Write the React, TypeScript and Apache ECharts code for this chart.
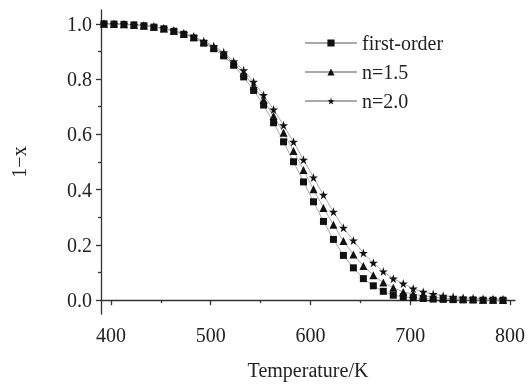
import React, { useEffect, useRef } from "react";
import * as echarts from "echarts";

const temperatures = [
  393, 403, 413, 423, 433, 443, 453, 463, 473, 483, 493, 503, 513, 523, 533, 543, 553, 563, 573, 583,
  593, 603, 613, 623, 633, 643, 653, 663, 673, 683, 693, 703, 713, 723, 733, 743, 753, 763, 773, 783, 793,
];
const firstOrder = [
  1.0, 0.999, 0.998, 0.996, 0.993, 0.988, 0.982, 0.973, 0.962, 0.949, 0.93, 0.91, 0.884, 0.85, 0.808,
  0.759, 0.706, 0.642, 0.573, 0.501, 0.428, 0.356, 0.285, 0.22, 0.162, 0.117, 0.078, 0.052, 0.032,
  0.018, 0.012, 0.009, 0.006, 0.004, 0.003, 0.002, 0.001, 0.001, 0.0, 0.0, 0.0,
];
const order15 = [
  1.0, 0.999, 0.998, 0.996, 0.993, 0.989, 0.983, 0.975, 0.964, 0.952, 0.934, 0.915, 0.891, 0.856, 0.822,
  0.774, 0.724, 0.666, 0.606, 0.54, 0.471, 0.401, 0.334, 0.273, 0.214, 0.165, 0.124, 0.09, 0.064,
  0.045, 0.03, 0.022, 0.016, 0.011, 0.008, 0.006, 0.004, 0.003, 0.002, 0.002, 0.001,
];
const order20 = [
  1.0, 0.999, 0.998, 0.996, 0.994, 0.99, 0.984, 0.976, 0.966, 0.954, 0.937, 0.92, 0.897, 0.864, 0.832,
  0.79, 0.742, 0.69, 0.633, 0.573, 0.508, 0.444, 0.381, 0.32, 0.262, 0.216, 0.171, 0.135, 0.104,
  0.078, 0.06, 0.042, 0.03, 0.022, 0.016, 0.012, 0.009, 0.007, 0.005, 0.004, 0.003,
];
const seriesNames = ["first-order", "n=1.5", "n=2.0"];
const xMajorTicks = [400, 500, 600, 700, 800];
const xMinorTicks = [450, 550, 650, 750];
const yMajorTicks = [0, 0.2, 0.4, 0.6, 0.8, 1.0];
const yMinorTicks = [0.1, 0.3, 0.5, 0.7, 0.9];

const STAR =
  "path://M50,0 L61,35 L98,35 L68,57 L79,91 L50,70 L21,91 L32,57 L2,35 L39,35 Z";

const FONT = "Liberation Serif";
const FONT_SIZE = 20;
const AXIS_COLOR = "#333";
const TEXT_COLOR = "#222";

export default function App() {
  const ref = useRef<HTMLDivElement>(null);
  useEffect(() => {
    if (!ref.current) return;
    const chart = echarts.init(ref.current, undefined, { renderer: "svg" });
    const pairs = (vals: number[]) => temperatures.map((t, i) => [t, vals[i]]);
    const baseX = {
      type: "value",
      min: 390,
      max: 805,
      splitLine: { show: false },
      axisLine: { show: true, lineStyle: { color: AXIS_COLOR, width: 1.3 } },
    };
    const baseY = {
      type: "value",
      min: -0.05,
      max: 1.05,
      splitLine: { show: false },
      axisLine: { show: true, lineStyle: { color: AXIS_COLOR, width: 1.3 } },
    };
    const lineSeries = (name: string, vals: number[], symbol: string, size: number) => ({
      name,
      type: "line",
      data: pairs(vals),
      symbol,
      symbolSize: size,
      showSymbol: true,
      lineStyle: { color: "#aaa", width: 1 },
      itemStyle: { color: "#111" },
    });
    chart.setOption({
      animation: false,
      textStyle: { fontFamily: FONT },
      grid: { left: 101, right: 10, top: 10, bottom: 69 },
      legend: {
        orient: "vertical",
        left: 304,
        top: 33,
        padding: 0,
        itemWidth: 52,
        itemHeight: 9,
        itemGap: 9,
        textStyle: { fontFamily: FONT, fontSize: FONT_SIZE, color: TEXT_COLOR, lineHeight: 20 },
        data: seriesNames,
      },
      xAxis: [
        {
          ...baseX,
          name: "Temperature/K",
          nameLocation: "middle",
          nameGap: 46,
          nameTextStyle: { fontFamily: FONT, fontSize: FONT_SIZE, color: TEXT_COLOR },
          axisTick: {
            show: true,
            length: 5,
            customValues: xMajorTicks,
            lineStyle: { color: AXIS_COLOR, width: 1.3 },
          },
          axisLabel: {
            customValues: xMajorTicks,
            margin: 11,
            fontFamily: FONT,
            fontSize: FONT_SIZE,
            color: TEXT_COLOR,
          },
        },
        {
          ...baseX,
          axisLine: { show: false },
          axisTick: {
            show: true,
            length: 3,
            customValues: xMinorTicks,
            lineStyle: { color: AXIS_COLOR, width: 1.3 },
          },
          axisLabel: { show: false },
          position: "bottom",
        },
      ],
      yAxis: [
        {
          ...baseY,
          name: "1−x",
          nameLocation: "middle",
          nameGap: 72,
          nameRotate: 90,
          nameTextStyle: { fontFamily: FONT, fontSize: FONT_SIZE, color: TEXT_COLOR },
          axisTick: {
            show: true,
            length: 5,
            customValues: yMajorTicks,
            lineStyle: { color: AXIS_COLOR, width: 1.3 },
          },
          axisLabel: {
            customValues: yMajorTicks,
            margin: 9,
            fontFamily: FONT,
            fontSize: FONT_SIZE,
            color: TEXT_COLOR,
            formatter: (v: number) => v.toFixed(1),
          },
        },
        {
          ...baseY,
          axisLine: { show: false },
          axisTick: {
            show: true,
            length: 3,
            customValues: yMinorTicks,
            lineStyle: { color: AXIS_COLOR, width: 1.3 },
          },
          axisLabel: { show: false },
          position: "left",
        },
      ],
      series: [
        lineSeries(seriesNames[0], firstOrder, "rect", 7),
        lineSeries(seriesNames[1], order15, "triangle", 8),
        lineSeries(seriesNames[2], order20, STAR, 9),
      ],
    });
    return () => chart.dispose();
  }, []);
  return (
    <div
      ref={ref}
      style={{ position: "fixed", left: 0, top: 0, width: 528, height: 385 }}
    />
  );
}
